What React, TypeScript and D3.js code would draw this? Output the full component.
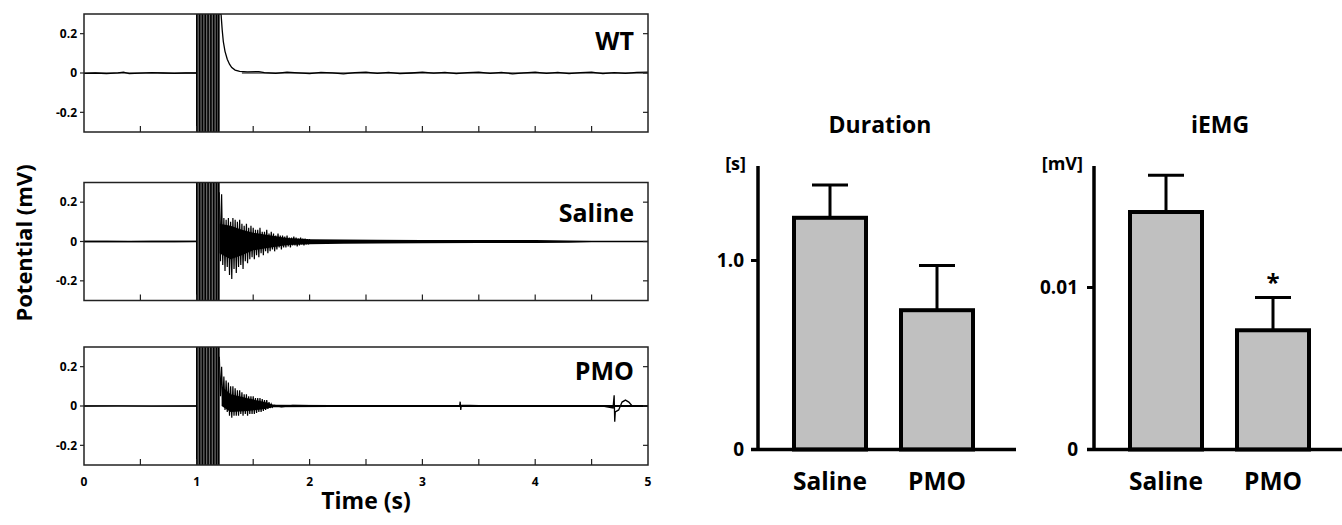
import React from "react";
import * as d3 from "d3";

// ---------- DATA ----------
const timeTicks = [0, 1, 2, 3, 4, 5];
const minorTimeTicks = [0.5, 1, 1.5, 2, 2.5, 3, 3.5, 4, 4.5];
const potentialTicks = [-0.2, 0, 0.2];
const stimTimes = [1.0, 1.025, 1.05, 1.075, 1.1, 1.125, 1.15, 1.175, 1.195];
const stimWindow = [1.0, 1.2];

// WT trace: [time s, potential mV]
const wtTrace: [number, number][] = [
  [0, -0.002], [0.1, 0.0], [0.2, -0.003], [0.3, 0.001], [0.35, 0.004], [0.4, -0.003], [0.5, -0.001],
  [0.6, 0.002], [0.7, 0.0], [0.8, -0.002], [0.9, 0.0], [1.0, 0.0],
  [1.2, 0.3], [1.215, 0.3], [1.225, 0.22], [1.235, 0.16], [1.25, 0.11], [1.27, 0.07], [1.29, 0.045],
  [1.31, 0.028], [1.34, 0.015], [1.38, 0.008], [1.45, 0.006], [1.55, 0.007], [1.6, 0.002],
  [1.7, -0.002], [1.8, 0.004], [1.9, 0.001], [2.0, -0.003], [2.1, 0.003], [2.2, 0.001], [2.3, -0.004],
  [2.4, 0.002], [2.5, 0.004], [2.6, -0.002], [2.7, 0.003], [2.8, -0.003], [2.9, 0.0], [3.0, 0.004],
  [3.1, -0.001], [3.2, 0.003], [3.3, -0.003], [3.4, 0.002], [3.5, 0.004], [3.6, -0.002], [3.7, 0.003],
  [3.8, -0.004], [3.9, 0.001], [4.0, 0.004], [4.1, -0.002], [4.2, 0.003], [4.3, -0.003], [4.4, 0.002],
  [4.5, 0.004], [4.6, -0.003], [4.7, 0.002], [4.8, -0.002], [4.9, 0.003], [5.0, 0.004],
];
// noise envelopes: [time s, lower mV, upper mV], one array per continuous segment
const wtBandPre: [number, number, number][] = [[0, -0.003, 0.003], [1.0, -0.003, 0.003]];
const wtBandPost: [number, number, number][] = [[1.4, -0.003, 0.003], [5.0, -0.003, 0.003]];

// Saline trace
const salineBase: [number, number][] = [
  [0, 0.0], [0.2, 0.001], [0.4, -0.001], [0.6, 0.001], [0.8, 0.0], [1.0, 0.001],
];
const salineBurstStart = 1.2;
const sampleStep = 0.01;
const salineBurst = [
  0.25, -0.1, 0.24, -0.12, 0.12, -0.15, 0.11, -0.13, 0.12, -0.17,
  0.1, -0.19, 0.12, -0.14, 0.11, -0.16, 0.1, -0.13, 0.11, -0.12,
  0.09, -0.14, 0.08, -0.1, 0.09, -0.11, 0.07, -0.09, 0.08, -0.08,
  0.07, -0.09, 0.06, -0.07, 0.06, -0.08, 0.07, -0.06, 0.05, -0.07,
  0.05, -0.05, 0.06, -0.06, 0.04, -0.05, 0.05, -0.04, 0.04, -0.05,
  0.03, -0.04, 0.04, -0.03, 0.03, -0.04, 0.03, -0.03, 0.025, -0.03,
  0.03, -0.025, 0.02, -0.03, 0.02, -0.02, 0.025, -0.02, 0.02, -0.025,
  0.015, -0.02, 0.02, -0.015, 0.015, -0.02, 0.015, -0.015, 0.012, -0.015,
  0.012,
];
const salineBandPre: [number, number, number][] = [[0, -0.004, 0.004], [1.0, -0.004, 0.004]];
const salineBandPost: [number, number, number][] = [
  [1.2, -0.06, 0.09], [1.3, -0.09, 0.08], [1.4, -0.07, 0.06], [1.5, -0.045, 0.045], [1.6, -0.035, 0.035],
  [1.8, -0.018, 0.018], [2.0, -0.014, 0.012], [2.3, -0.012, 0.01], [2.6, -0.01, 0.009], [3.0, -0.009, 0.008],
  [3.5, -0.008, 0.007], [4.0, -0.008, 0.007], [4.3, -0.006, 0.005], [4.5, -0.004, 0.004], [5.0, -0.004, 0.004],
];

// PMO trace
const pmoBase: [number, number][] = [
  [0, 0.0], [0.3, 0.001], [0.6, -0.001], [1.0, 0.0],
  [1.68, 0.005], [1.75, -0.004], [1.85, 0.003], [2.0, 0.002], [2.3, -0.002], [2.6, 0.002], [3.0, 0.0],
  [3.33, 0.0], [3.335, 0.022], [3.34, -0.02], [3.345, 0.004], [3.5, 0.002], [3.8, -0.002],
  [4.1, 0.002], [4.4, -0.002], [4.6, 0.0], [4.69, -0.01], [4.7, 0.055], [4.705, -0.08],
  [4.71, -0.03], [4.74, -0.02], [4.77, 0.02], [4.8, 0.03], [4.83, 0.02], [4.86, 0.0], [5.0, 0.0],
];
const pmoBurstStart = 1.2;
const pmoBurst = [
  0.25, 0.05, 0.2, 0.0, 0.15, -0.02, 0.13, -0.03, 0.12, -0.05,
  0.1, -0.06, 0.1, -0.05, 0.09, -0.05, 0.08, -0.05, 0.08, -0.04,
  0.07, -0.05, 0.06, -0.04, 0.06, -0.05, 0.05, -0.04, 0.05, -0.04,
  0.05, -0.04, 0.04, -0.035, 0.04, -0.03, 0.04, -0.03, 0.035, -0.025,
  0.03, -0.02, 0.03, -0.015, 0.02, -0.01, 0.01, -0.005, 0.005,
];
const pmoBandPre: [number, number, number][] = [[0, -0.003, 0.003], [1.0, -0.003, 0.003]];
const pmoBandPost: [number, number, number][] = [
  [1.22, 0.0, 0.1], [1.3, -0.03, 0.06], [1.45, -0.025, 0.04], [1.6, -0.015, 0.02], [1.68, -0.006, 0.006],
  [2.2, -0.005, 0.005], [5.0, -0.005, 0.005],
];

const groupLabels = ["WT", "Saline", "PMO"];
const barCategories = ["Saline", "PMO"];
const durationMean = [1.226, 0.737];
const durationErr = [0.174, 0.237];
const durationTicks = [0, 1.0];
const iemgMean = [0.01466, 0.00736];
const iemgErr = [0.00227, 0.00203];
const iemgTicks = [0, 0.01];
const iemgSignificant = [false, true];

// ---------- LAYOUT ----------
const FONT = "'Open Sans', 'Noto Sans', sans-serif";
const TX0 = 84, TX1 = 648, PH = 118;
const panelTops = [14, 182.5, 347];
const labelBaselines = [50, 222, 380];

const xT = d3.scaleLinear().domain([0, 5]).range([TX0, TX1]);

type Band = [number, number, number][];
type TraceSpec = {
  line: [number, number][];
  burstStart?: number;
  burst?: number[];
  bands: Band[];
};

const traces: TraceSpec[] = [
  { line: wtTrace, bands: [wtBandPre, wtBandPost] },
  { line: salineBase, burstStart: salineBurstStart, burst: salineBurst, bands: [salineBandPre, salineBandPost] },
  { line: pmoBase, burstStart: pmoBurstStart, burst: pmoBurst, bands: [pmoBandPre, pmoBandPost] },
];

function TracePanel({ idx }: { idx: number }) {
  const top = panelTops[idx];
  const y = d3.scaleLinear().domain([-0.3, 0.3]).range([top + PH, top]);
  const spec = traces[idx];
  const line = d3.line<[number, number]>().x((d) => xT(d[0])).y((d) => y(d[1]));
  const area = d3.area<[number, number, number]>().x((d) => xT(d[0])).y0((d) => y(d[1])).y1((d) => y(d[2]));
  const burstPts: [number, number][] = (spec.burst || []).map((v, i) => [spec.burstStart! + i * sampleStep, v]);
  const clipId = `clip${idx}`;
  const pre = spec.line.filter((d) => d[0] <= stimWindow[0]);
  const post = spec.line.filter((d) => d[0] >= stimWindow[1] - 0.001);
  return (
    <g>
      <defs>
        <clipPath id={clipId}>
          <rect x={TX0} y={top} width={TX1 - TX0} height={PH} />
        </clipPath>
      </defs>
      <g clipPath={`url(#${clipId})`}>
        {spec.bands.map((s, i) => (
          <path key={i} d={area(s) || ""} fill="#000" />
        ))}
        <path d={line(pre) || ""} fill="none" stroke="#000" strokeWidth={1.3} />
        {post.length > 0 && <path d={line(post) || ""} fill="none" stroke="#000" strokeWidth={1.3} />}
        {burstPts.length > 0 && <path d={line(burstPts) || ""} fill="none" stroke="#000" strokeWidth={1.2} />}
        <rect x={xT(stimWindow[0])} y={top} width={xT(stimWindow[1]) - xT(stimWindow[0])} height={PH} fill="#6a6a6a" />
        {stimTimes.map((t, i) => (
          <line key={i} x1={xT(t)} x2={xT(t)} y1={top} y2={top + PH} stroke="#000" strokeWidth={1.6} />
        ))}
      </g>
      <rect x={TX0} y={top} width={TX1 - TX0} height={PH} fill="none" stroke="#222" strokeWidth={1.5} />
      {minorTimeTicks.map((t, i) => (
        <line key={i} x1={xT(t)} x2={xT(t)} y1={top + PH} y2={top + PH - 6} stroke="#222" strokeWidth={1.2} />
      ))}
      {potentialTicks.map((v, i) => (
        <g key={i}>
          <line x1={TX0 - 4} x2={TX0} y1={y(v)} y2={y(v)} stroke="#222" strokeWidth={1.2} />
          <line x1={TX1 - 5} x2={TX1} y1={y(v)} y2={y(v)} stroke="#222" strokeWidth={1.2} />
          <text x={TX0 - 7} y={y(v)} dy="0.36em" textAnchor="end" fontSize={12} fontWeight="bold" fontFamily={FONT}>
            {v === 0 ? "0" : d3.format(".1f")(v).replace("−", "-")}
          </text>
        </g>
      ))}
      <text x={634} y={labelBaselines[idx]} textAnchor="end" fontSize={25} fontWeight="bold" fontFamily={FONT}>
        {groupLabels[idx]}
      </text>
    </g>
  );
}

type BarSpec = {
  title: string;
  unit: string;
  means: number[];
  errs: number[];
  ticks: number[];
  tickFmt: (v: number) => string;
  domainMax: number;
  axisX: number;
  axisEnd: number;
  centers: [number, number];
  tickLabelX: number;
  unitX: number;
  titleX: number;
  sig?: boolean[];
};

function BarChart({ spec }: { spec: BarSpec }) {
  const y0 = 449.5, yTop = 166;
  const y = d3.scaleLinear().domain([0, spec.domainMax]).range([y0, yTop]);
  const x = d3.scalePoint<string>().domain(barCategories).range(spec.centers);
  const bw = 72, cap = 36;
  return (
    <g fontFamily={FONT} fontWeight="bold">
      <text x={spec.titleX} y={133} textAnchor="middle" fontSize={23}>{spec.title}</text>
      <text x={spec.unitX} y={170} textAnchor="end" fontSize={18}>{spec.unit}</text>
      {spec.means.map((m, i) => {
        const cx = x(barCategories[i])!;
        const top = y(m), et = y(m + spec.errs[i]);
        return (
          <g key={i}>
            <line x1={cx} x2={cx} y1={top} y2={et} stroke="#000" strokeWidth={3} />
            <line x1={cx - cap / 2} x2={cx + cap / 2} y1={et} y2={et} stroke="#000" strokeWidth={3} />
            <rect x={cx - bw / 2} y={top} width={bw} height={y0 - top} fill="#c0c0c0" stroke="#000" strokeWidth={4} />
            {spec.sig && spec.sig[i] && (
              <text x={cx} y={et - 6} textAnchor="middle" fontSize={24}>*</text>
            )}
            <text x={cx} y={490} textAnchor="middle" fontSize={24.5}>{barCategories[i]}</text>
          </g>
        );
      })}
      <line x1={spec.axisX} x2={spec.axisX} y1={yTop} y2={y0} stroke="#000" strokeWidth={3.5} />
      <line x1={spec.axisX - 7} x2={spec.axisEnd} y1={y0} y2={y0} stroke="#000" strokeWidth={3.5} />
      {spec.ticks.map((t, i) => (
        <g key={i}>
          <line x1={spec.axisX - 7} x2={spec.axisX} y1={y(t)} y2={y(t)} stroke="#000" strokeWidth={3} />
          <text x={spec.tickLabelX} y={y(t)} dy="0.36em" textAnchor="end" fontSize={19}>{spec.tickFmt(t)}</text>
        </g>
      ))}
    </g>
  );
}

const durationSpec: BarSpec = {
  title: "Duration", unit: "[s]", means: durationMean, errs: durationErr, ticks: durationTicks,
  tickFmt: (v) => (v === 0 ? "0" : d3.format(".1f")(v)), domainMax: 1.5,
  axisX: 758, axisEnd: 1016, centers: [830, 937], tickLabelX: 744, unitX: 746, titleX: 880,
};
const iemgSpec: BarSpec = {
  title: "iEMG", unit: "[mV]", means: iemgMean, errs: iemgErr, ticks: iemgTicks,
  tickFmt: (v) => (v === 0 ? "0" : d3.format(".2f")(v)), domainMax: 0.0175,
  axisX: 1094, axisEnd: 1342, centers: [1166, 1273], tickLabelX: 1078, unitX: 1083, titleX: 1220,
  sig: iemgSignificant,
};

export default function App() {
  const bottom = panelTops[2] + PH;
  return (
    <svg width={1342} height={525} style={{ position: "absolute", left: 0, top: 0, background: "#fff" }}>
      <rect width={1342} height={525} fill="#fff" />
      {[0, 1, 2].map((i) => <TracePanel key={i} idx={i} />)}
      {timeTicks.map((t, i) => (
        <text key={i} x={xT(t)} y={bottom + 21} textAnchor="middle" fontSize={12} fontWeight="bold" fontFamily={FONT}>
          {t}
        </text>
      ))}
      <text x={(TX0 + TX1) / 2} y={509} textAnchor="middle" fontSize={23} fontWeight="bold" fontFamily={FONT}>Time (s)</text>
      <text transform="translate(32,243) rotate(-90)" textAnchor="middle" fontSize={22} fontWeight="bold" fontFamily={FONT}>
        Potential (mV)
      </text>
      <BarChart spec={durationSpec} />
      <BarChart spec={iemgSpec} />
    </svg>
  );
}
